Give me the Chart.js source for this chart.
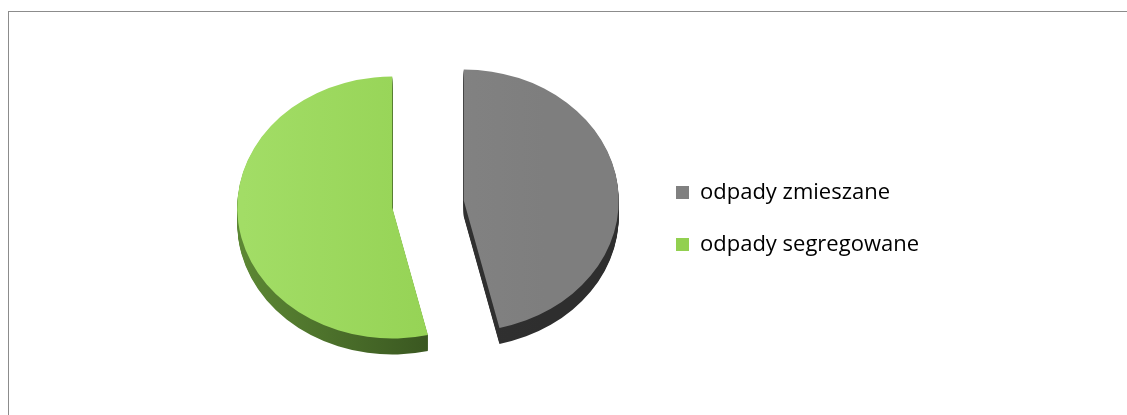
<!DOCTYPE html>
<html>
<head>
<meta charset="utf-8">
<script src="https://cdn.jsdelivr.net/npm/chart.js@4"></script>
<style>
html, body { margin: 0; padding: 0; background: #fff; overflow: hidden; }
#ramka { position: absolute; left: 8px; top: 11px; width: 1200px; height: 500px;
	border-left: 1px solid #8c8c8c; border-top: 1px solid #8c8c8c; }
#wrap { position: absolute; left: 0; top: 0; width: 1127px; height: 415px; }
</style>
</head>
<body>
<div id="ramka"></div>
<div id="wrap"><canvas id="mycanvas"></canvas></div>
<script>
var kategorie = ['odpady zmieszane', 'odpady segregowane'];
var udzial = [46.3, 53.7];
var kolory = ['#808080', '#92D050'];

// kolory "3D": wierzch (lewo -> prawo) i bok (lewo -> prawo)
var wierzch = [['#888888', '#7e7e7e'], ['#a2dd66', '#93d152']];
var bok = [['#353535', '#2e2e2e'], ['#5c8734', '#324c1c']];

// rysuje kawałki jako spłaszczoną, rozsuniętą pitę 3D
var pie3d = {
	id: 'pie3d',
	beforeDatasetDraw: function(chart, args){
		var ctx = chart.ctx;
		var arcs = args.meta.data;
		var splaszcz = 0.845, glebokosc = 16, rozsun = 36;

		function rysuj(arc, kol, dy){
			var half = (arc.startAngle + arc.endAngle) / 2;
			ctx.save();
			ctx.translate(arc.x, arc.y + dy);
			ctx.scale(1, splaszcz);
			ctx.translate(Math.cos(half) * rozsun, Math.sin(half) * rozsun);
			ctx.translate(-arc.x, -arc.y);
			var g = ctx.createLinearGradient(arc.x - 150, 0, arc.x + 80, 0);
			g.addColorStop(0, kol[0]);
			g.addColorStop(1, kol[1]);
			var el = Object.create(arc);
			el.options = Object.assign({}, arc.options, {backgroundColor: g, borderWidth: 0});
			arc.draw.call(el, ctx);
			ctx.restore();
		}

		for (var d = glebokosc; d > 0; d--){
			arcs.forEach(function(a, i){ rysuj(a, bok[i], d); });
		}
		arcs.forEach(function(a, i){ rysuj(a, wierzch[i], 0); });
		return false;
	}
};

var ctx = document.getElementById('mycanvas');
var pieChart = new Chart(ctx, {
	type: 'pie',
	data: {
		labels: kategorie,
		datasets: [{
			data: udzial,
			backgroundColor: kolory,
			borderWidth: 0
		}]
	},
	options: {
		responsive: true,
		maintainAspectRatio: false,
		animation: false,
		radius: 155,
		layout: { padding: { left: 210, right: 198, top: 0, bottom: 7 } },
		plugins: {
			legend: {
				position: 'right',
				title: { display: true, text: '', padding: 0, font: { size: 29, lineHeight: 1 } },
				labels: {
					boxWidth: 13,
					boxHeight: 13,
					padding: 30,
					color: '#000',
					font: { family: 'Open Sans', size: 22 }
				}
			},
			tooltip: { enabled: false }
		}
	},
	plugins: [pie3d]
});
</script>
</body>
</html>
